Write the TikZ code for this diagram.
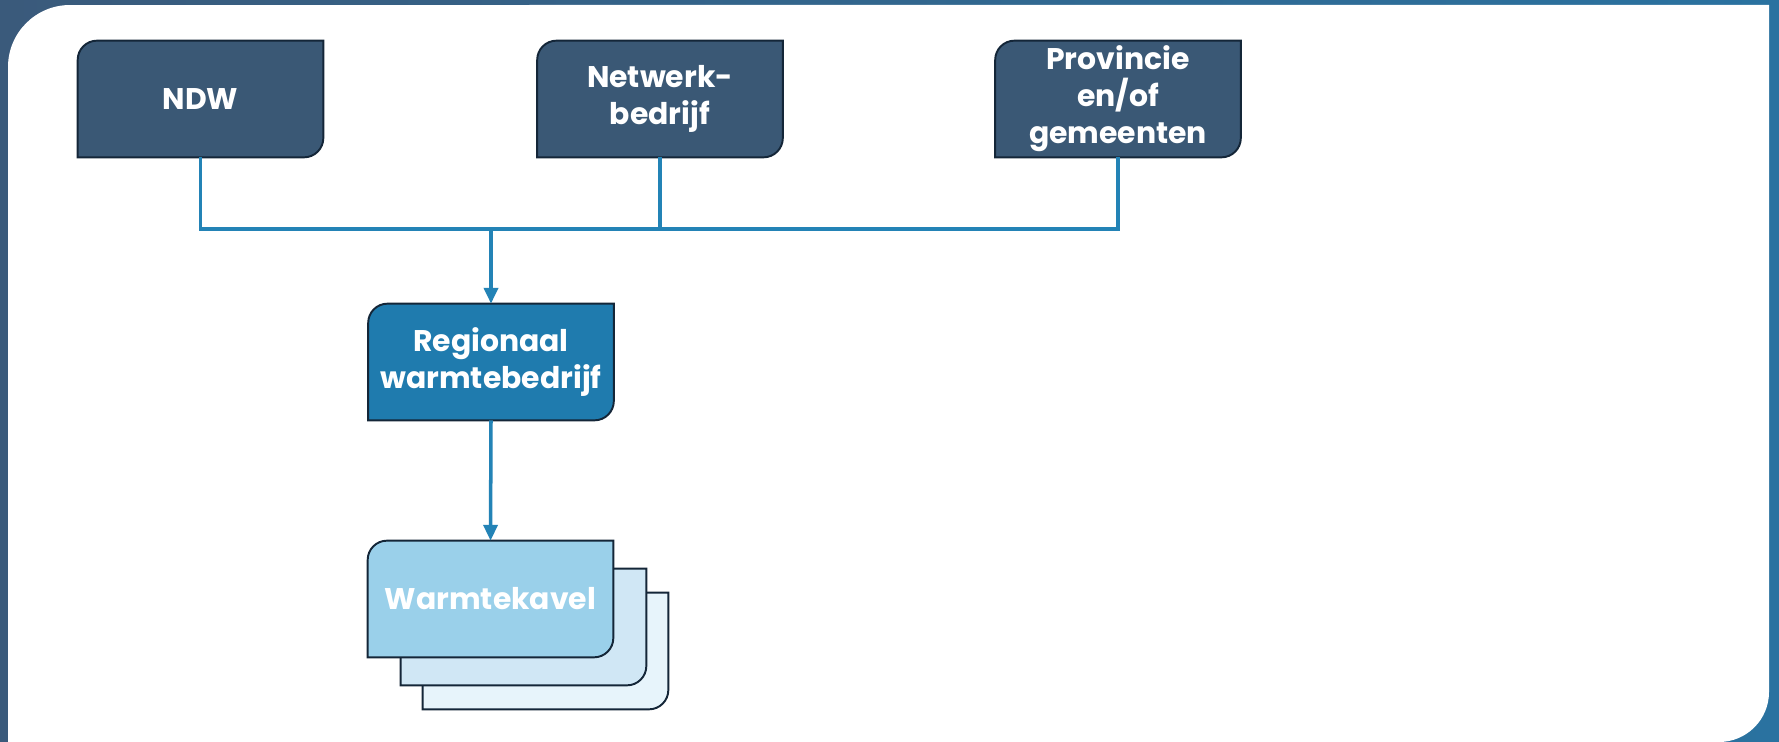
\documentclass[tikz,border=0pt]{standalone}
\usepackage{fontspec}
\setmainfont{Poppins}
\usetikzlibrary{arrows.meta,backgrounds}

\definecolor{slate}{HTML}{3A5875}
\definecolor{frameleft}{HTML}{3A5A7B}
\definecolor{frameright}{HTML}{2A72A0}
\definecolor{edge}{HTML}{142638}
\definecolor{regblue}{HTML}{1F7BAE}
\definecolor{kavelfront}{HTML}{9AD0EA}
\definecolor{kavelmid}{HTML}{D0E7F5}
\definecolor{kavelback}{HTML}{E7F4FB}
\definecolor{wireblue}{HTML}{2383B6}

\tikzset{
  card/.style={minimum width=4.9cm,minimum height=2.32cm,inner sep=0pt,
    align=center,text=white,font=\fontsize{17}{21}\selectfont\bfseries},
  edgeline/.style={draw=edge,line width=1.1pt},
  wire/.style={draw=wireblue,line width=2pt},
}

% card with rounded top-left and bottom-right corners
\newcommand{\cardshape}[2]{%
  \draw[edgeline,fill=#2] (#1.south west) -- ([yshift=-11pt]#1.north west)
    arc[start angle=180,end angle=90,radius=11pt] -- (#1.north east)
    -- ([yshift=11pt]#1.south east)
    arc[start angle=0,end angle=-90,radius=11pt] -- cycle;}

\begin{document}
\begin{tikzpicture}[x=0.02cm,y=-0.02cm]
                \useasboundingbox (0,0) rectangle (1779,742);
                \node[card] (ndw) at (200.5,99) {NDW};
                \node[card] (net) at (660,99) {Netwerk-\\bedrijf};
                \node[card] (prov) at (1118,99) {Provincie\\en/of\\gemeenten};
                \node[card] (reg) at (491,362) {Regionaal\\warmtebedrijf};
                \node[card] (kavel) at (490.5,599) {Warmtekavel};
                \node[card] (kavelb) at ([shift={(33,28)}]kavel) {};
                \node[card] (kavelc) at ([shift={(55,52)}]kavel) {};
                \coordinate (join) at (491,229);
                \begin{scope}[on background layer]
                    % frame and white panel
                    \shade[left color=frameleft,right color=frameright] (0,0) rectangle (1779,742);
                    \fill[white] (8,742) -- (8,67) arc[start angle=180,end angle=90,radius=1.24cm]
                        -- (1769,5) -- (1769,692) arc[start angle=0,end angle=-90,radius=1cm] -- cycle;
                    \cardshape{kavelc}{kavelback}
                    \cardshape{kavelb}{kavelmid}
                    \cardshape{kavel}{kavelfront}
                    \foreach \n in {ndw,net,prov}{
                        \cardshape{\n}{slate}
                    }
                    \cardshape{reg}{regblue}
                \end{scope}
                \draw[wire] (ndw.south) -- (ndw.south |- join) -- (prov.south |- join) -- (prov.south);
                \draw[wire] (net.south) -- (net.south |- join);
                \draw[wire,-{Triangle[width=8pt,length=9pt]}] (join) -- (reg.north);
                \draw[wire,-{Triangle[width=8pt,length=9pt]}] (reg.south) -- (kavel.north);
            \end{tikzpicture}
\end{document}
